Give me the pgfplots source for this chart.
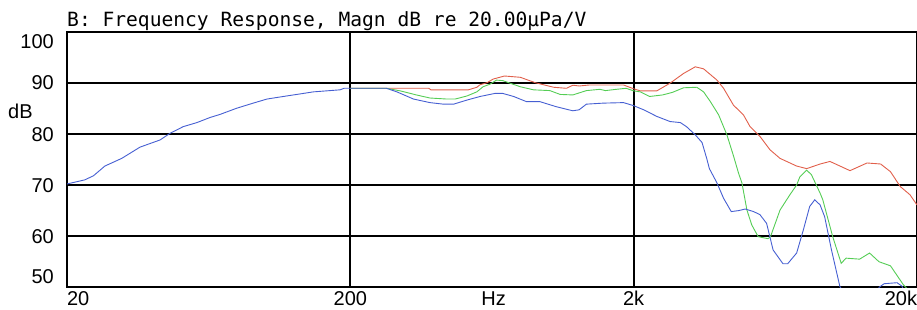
\documentclass[border=0pt]{standalone}
\usepackage{pgfplots}
\pgfplotsset{compat=1.18}
\usepackage{fontspec}
\setmainfont{Liberation Sans}
\newfontfamily\monofont{DejaVu Sans Mono}
\definecolor{cred}{RGB}{225,95,75}
\definecolor{cgreen}{RGB}{85,205,85}
\definecolor{cblue}{RGB}{70,95,210}
\begin{document}
\begin{tikzpicture}
\begin{axis}[
  at={(67pt,21.7pt)}, anchor=south west,
  scale only axis, width=850pt, height=255.8pt,
  xmode=log, xmin=20, xmax=20000, ymin=50, ymax=100,
  xtick=\empty, ytick=\empty,
  minor xtick={30,40,50,60,70,80,90,100,300,400,500,600,700,800,900,1000,3000,4000,5000,6000,7000,8000,9000,10000},
  minor ytick={52,54,56,58,62,64,66,68,72,74,76,78,82,84,86,88,92,94,96,98},
  grid=minor,
  minor grid style={black!12, line width=0.8pt},
  extra x ticks={20,200,2000,20000},
  extra x tick labels={\rlap{20},200,2k,\llap{20k}},
  extra y ticks={50,60,70,80,90,100},
  extra y tick labels={\raisebox{11.3pt}{50},60,70,80,90,\raisebox{-9.5pt}{100}},
  extra tick style={grid=major, major grid style={black, line width=2pt}},
  axis line style={black, line width=2pt},
  major tick length=0pt, minor tick length=0pt,
  tick label style={font=\fontsize{20}{20}\selectfont, inner sep=0pt},
  xticklabel style={anchor=base, yshift=-18pt},
  yticklabel style={anchor=base east, xshift=-13pt, yshift=-7.3pt},
  xlabel={Hz},
  xlabel style={at={(axis description cs:0.502,0)}, anchor=base, inner sep=0pt, yshift=-18pt, font=\fontsize{20}{20}\selectfont},
  every axis plot/.append style={line width=0.9pt, mark=none},
]
\addplot[cred] coordinates {
(200,88.9) (378,88.9) (385,88.6) (522,88.6) (559,89.1) (574,89.6) (608,90.0) (638,90.7) (700,91.3) (796,91.05) (898,90.0) (1044,89.1) (1158,88.9) (1220,89.5) (1284,89.35) (1396,89.55) (1842,89.55) (2000,88.8) (2110,88.4) (2414,88.4) (2688,89.9) (3000,91.8) (3300,93.1) (3530,92.7) (3936,90.5) (4152,88.9) (4500,85.6) (4880,83.7) (5150,81.4) (5580,79.5) (6050,76.9) (6570,75.2) (7520,73.7) (8160,73.2) (9100,74.1) (9860,74.6) (11600,72.8) (13320,74.3) (14880,74.1) (16120,72.6) (17450,69.7) (18880,68.1) (20000,66.1)
};
\addplot[cgreen] coordinates {
(200,88.9) (268,88.9) (300,88.4) (342,87.6) (382,87.0) (438,86.8) (469,86.8) (516,87.4) (559,88.2) (588,89.2) (622,89.7) (656,90.5) (690,90.4) (796,89.2) (886,88.6) (1012,88.45) (1100,87.7) (1220,87.6) (1362,88.45) (1520,88.7) (1590,88.45) (1738,88.7) (1880,88.9) (2000,88.4) (2110,88.2) (2278,87.3) (2530,87.6) (2740,88.1) (3000,89.0) (3340,89.1) (3530,88.2) (3730,86.3) (3990,83.7) (4266,79.8) (4500,75.7) (4690,72.3) (4820,70.4) (5020,65.1) (5220,62.2) (5500,59.9) (5960,59.5) (6080,59.9) (6570,65.1) (7120,68.1) (7520,70.0) (7720,71.6) (8160,72.9) (8480,72.0) (9100,68.4) (9300,67.1) (10080,59.9) (10800,54.7) (11240,55.7) (12540,55.5) (13600,56.7) (14680,55.0) (16120,54.2) (17900,50.5) (18500,49.7) (20000,49.7)
};
\addplot[cblue] coordinates {
(20,70.2) (23.1,71.0) (24.8,71.8) (27.2,73.7) (31.2,75.2) (36.2,77.4) (42.6,78.8) (46.2,80.1) (51.4,81.4) (57.5,82.2) (64,83.2) (69.4,83.8) (79.4,85.0) (90.8,86.0) (101.6,86.8) (116,87.3) (133,87.8) (148,88.2) (184,88.6) (190,88.9) (268,88.9) (292,88.2) (334,86.8) (382,86.1) (426,85.8) (463,85.8) (516,86.6) (574,87.3) (648,87.9) (690,87.9) (754,87.3) (836,86.3) (932,86.3) (1066,85.3) (1220,84.5) (1284,84.7) (1362,85.8) (1562,86.0) (1842,86.1) (2000,85.5) (2168,84.7) (2414,83.4) (2688,82.4) (2922,82.2) (3072,81.4) (3300,79.8) (3486,78.3) (3620,75.2) (3700,73.2) (3936,70.4) (4152,67.4) (4420,64.8) (4700,65.0) (4950,65.3) (5300,64.8) (5580,64.2) (5890,62.5) (6210,57.3) (6730,54.6) (6990,54.6) (7520,56.7) (7940,61.2) (8360,65.8) (8710,67.1) (9100,66.1) (9440,63.8) (9980,57.3) (10680,50.2) (11500,47) (14000,47) (14700,50.0) (15300,50.7) (17000,50.9) (17720,50.2) (18500,47) (20000,46)
};
\end{axis}
\node[anchor=base west, inner sep=0pt, font=\monofont\fontsize{19.6}{20}\selectfont] at (67pt,282.3pt) {\frenchspacing B: Frequency Response, Magn dB re 20.00µPa/V};
\node[anchor=base west, inner sep=0pt, font=\fontsize{20}{20}\selectfont] at (8pt,190.7pt) {dB};
\pgfresetboundingbox
\path[use as bounding box] (0,0) rectangle (917pt,309pt);
\end{tikzpicture}
\end{document}
